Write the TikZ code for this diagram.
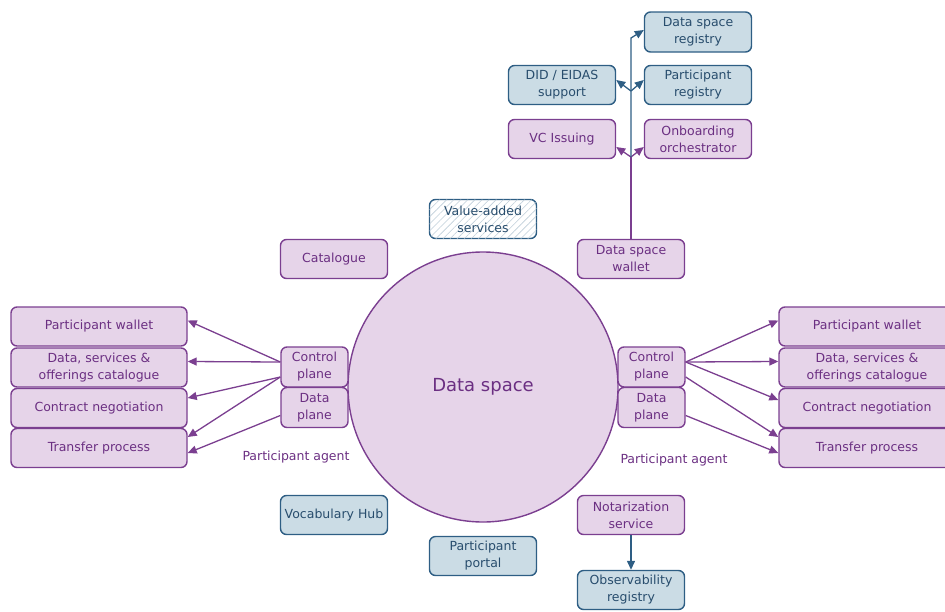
\documentclass[tikz,border=0pt]{standalone}
\usepackage{fontspec}
\setmainfont{DejaVu Sans}
\usetikzlibrary{arrows.meta,patterns.meta}

\definecolor{pfill}{HTML}{E6D4E9}
\definecolor{pline}{HTML}{7B3F90}
\definecolor{ptext}{HTML}{6B2F82}
\definecolor{bfill}{HTML}{CBDCE5}
\definecolor{bline}{HTML}{2E5E84}
\definecolor{btext}{HTML}{284D6D}

\tikzset{
  box/.style={draw, rounded corners=6pt, line width=1.4pt, align=center,
    inner sep=0pt, minimum width=107pt, minimum height=39pt,
    font=\fontsize{12.5}{17}\selectfont},
  pbox/.style={box, draw=pline, fill=pfill, text=ptext},
  bbox/.style={box, draw=bline, fill=bfill, text=btext},
  wbox/.style={pbox, minimum width=176pt},
  half/.style={pbox, minimum width=67pt, minimum height=40pt},
  hatchbox/.style={box, draw=bline, text=btext, fill=white,
    postaction={pattern={Lines[angle=45,distance=5pt,line width=0.6pt]},
      pattern color=bline!30}},
  parr/.style={draw=pline, line width=1.3pt, -{Triangle[length=9pt,width=8pt]}},
  barr/.style={draw=bline, line width=1.3pt, -{Triangle[length=9pt,width=8pt]}},
  plain/.style={text=ptext, font=\fontsize{12.5}{17}\selectfont},
}

\begin{document}
\begin{tikzpicture}[x=1pt,y=-1pt]
\useasboundingbox (0,0) rectangle (945,611);
\clip (0,0) rectangle (945,611);

% central data space
\node[circle, draw=pline, fill=pfill, line width=1.4pt, minimum size=270pt,
  text=ptext, font=\fontsize{18}{20}\selectfont] (ds) at (483,387) {Data space};

% trust and registry services
\node[bbox, minimum height=40pt] (dsr) at (698,32) {Data space\\registry};
\node[bbox] (did) at (562,85) {DID / EIDAS\\support};
\node[bbox] (preg) at (698,85) {Participant\\registry};
\node[pbox] (vc) at (562,139) {VC Issuing};
\node[pbox] (onb) at (698,139) {Onboarding\\orchestrator};

% services around the data space
\node[hatchbox] (vas) at (483,219) {Value-added\\services};
\node[pbox] (cat) at (334,259) {Catalogue};
\node[pbox] (wal) at (631,259) {Data space\\wallet};
\node[bbox] (voc) at (334,515) {Vocabulary Hub};
\node[bbox] (portal) at (483,556) {Participant\\portal};
\node[pbox] (notar) at (631,515) {Notarization\\service};
\node[bbox] (obs) at (631,590) {Observability\\registry};

% participant agents
\node[half] (cpL) at (314.5,367) {Control\\plane};
\node[half] (dpL) at (314.5,407.5) {Data\\plane};
\node[half] (cpR) at (651.5,367) {Control\\plane};
\node[half] (dpR) at (651.5,407.5) {Data\\plane};
\node[plain] (paL) at (296,457) {Participant agent};
\node[plain] (paR) at (674,460) {Participant agent};

% participant functions, left
\node[wbox] (pwL) at (99,326.5) {Participant wallet};
\node[wbox] (dcL) at (99,367.5) {Data, services \&\\offerings catalogue};
\node[wbox] (cnL) at (99,408) {Contract negotiation};
\node[wbox] (tpL) at (99,448) {Transfer process};

% participant functions, right
\node[wbox] (pwR) at (867,326.5) {Participant wallet};
\node[wbox] (dcR) at (867,367.5) {Data, services \&\\offerings catalogue};
\node[wbox] (cnR) at (867,408) {Contract negotiation};
\node[wbox] (tpR) at (867,448) {Transfer process};

% left agent connections
\draw[parr] ([yshift=5pt]cpL.west) -- ([yshift=6pt]pwL.east);
\draw[parr] ([yshift=5pt]cpL.west) -- ([yshift=6pt]dcL.east);
\draw[parr] ([yshift=-10pt]cpL.west) -- ([yshift=10pt]cnL.east);
\draw[parr] ([yshift=-10pt]cpL.west) -- ([yshift=11pt]tpL.east);
\draw[parr] ([yshift=-8pt]dpL.west) -- ([yshift=-5pt]tpL.east);

% right agent connections
\draw[parr] ([yshift=5pt]cpR.east) -- ([yshift=6pt]pwR.west);
\draw[parr] ([yshift=5pt]cpR.east) -- ([yshift=6pt]dcR.west);
\draw[parr] ([yshift=5pt]cpR.east) -- ([yshift=8pt]cnR.west);
\draw[parr] ([yshift=-10pt]cpR.east) -- ([yshift=11pt]tpR.west);
\draw[parr] ([yshift=-8pt]dpR.east) -- ([yshift=-5pt]tpR.west);

% wallet trunk towards issuing and registries
\coordinate (jv) at (631,157);
\coordinate (jd) at (631,91);
\coordinate (jt) at (631,38);
\draw[draw=pline, line width=1.3pt] (wal.north) -- (jv);
\draw[parr] (jv) -- ([yshift=-8pt]vc.east);
\draw[parr] (jv) -- ([yshift=-8pt]onb.west);
\draw[barr] (jv) -- (jt) -- ([yshift=2pt]dsr.west);
\draw[barr] (jd) -- ([yshift=5pt]did.east);
\draw[barr] (jd) -- ([yshift=5pt]preg.west);

% notarization feeds observability
\draw[barr] (notar.south) -- (obs.north);
\end{tikzpicture}
\end{document}
